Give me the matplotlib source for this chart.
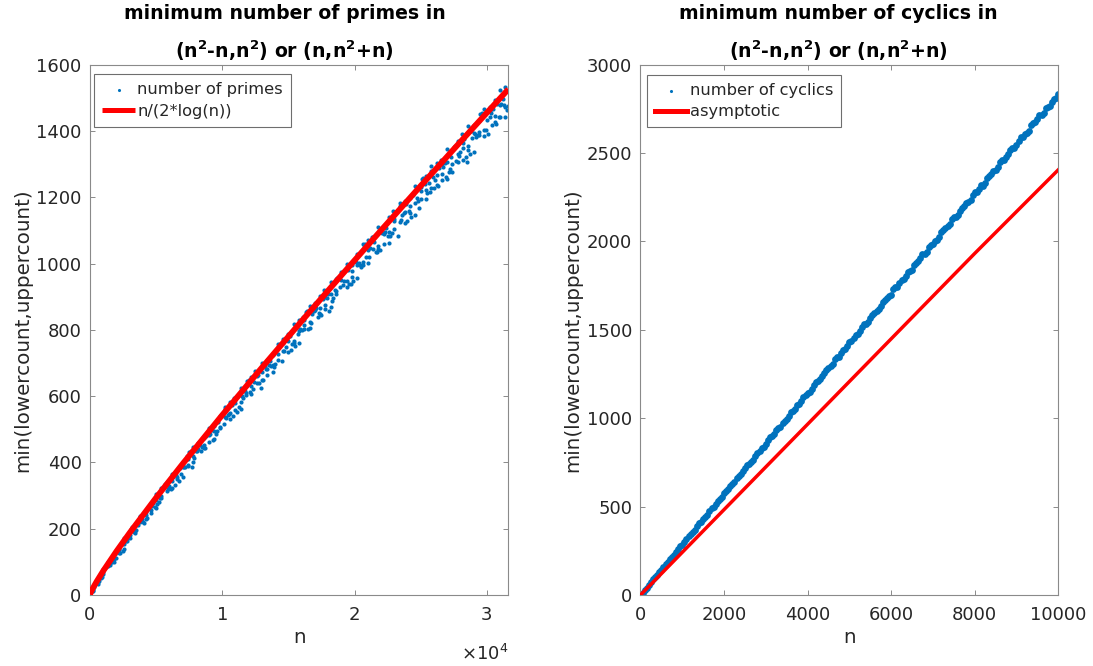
import matplotlib.pyplot as plt

plt.rcParams["font.family"] = "DejaVu Sans"
plt.rcParams["mathtext.fontset"] = "dejavusans"

BLUE = "#0072BD"
RED = "#FF0000"
AXIS_GRAY = "#8a8a8a"
TEXT_GRAY = "#262626"

# ---- left panel: primes in (n^2-n, n^2) or (n, n^2+n) ----
n_left_a = [200, 600, 1000, 1400, 1800, 2200, 2600, 3000, 3400, 3800,
            4200, 4600, 5000, 5400, 5800, 6200, 6600, 7000, 7400, 7800,
            8200, 8600, 9000, 9400, 9800, 10200, 10600, 11000, 11400, 11800,
            12200, 12600, 13000, 13400, 13800, 14200, 14600, 15000, 15400, 15800,
            16200, 16600, 17000, 17400, 17800, 18200, 18600, 19000, 19400, 19800,
            20200, 20600, 21000, 21400, 21800, 22200, 22600, 23000, 23400, 23800,
            24200, 24600, 25000, 25400, 25800, 26200, 26600, 27000, 27400, 27800,
            28200, 28600, 29000, 29400, 29800, 30200, 30600, 31000, 31400]
primes_a = [21, 46, 78, 98, 124, 139, 172, 190, 209, 238,
            250, 278, 305, 322, 332, 366, 377, 402, 409, 447,
            459, 475, 505, 511, 540, 568, 583, 587, 625, 632,
            657, 660, 701, 710, 724, 756, 759, 788, 817, 830,
            831, 872, 876, 901, 900, 944, 952, 964, 998, 997,
            1028, 1058, 1070, 1068, 1111, 1113, 1139, 1135, 1182, 1188,
            1199, 1234, 1231, 1263, 1293, 1304, 1300, 1345, 1344, 1371,
            1365, 1414, 1419, 1429, 1465, 1460, 1493, 1524, 1534]
primes_b = [16, 40, 69, 88, 108, 136, 153, 181, 193, 219,
            241, 256, 286, 299, 314, 344, 357, 385, 393, 420,
            440, 453, 484, 494, 507, 538, 549, 579, 583, 610,
            630, 641, 674, 682, 693, 726, 735, 766, 767, 796,
            815, 825, 859, 866, 875, 909, 917, 949, 948, 977,
            997, 1005, 1040, 1045, 1053, 1089, 1095, 1128, 1125, 1155,
            1175, 1182, 1219, 1222, 1229, 1266, 1271, 1305, 1300, 1331,
            1350, 1356, 1394, 1397, 1402, 1441, 1445, 1479, 1473]
primes_c = [13, 34, 62, 100, 101, 127, 140, 172, 186, 234,
            229, 248, 261, 292, 341, 323, 349, 356, 389, 402,
            460, 443, 461, 471, 504, 561, 531, 558, 561, 602,
            607, 674, 648, 665, 673, 708, 771, 733, 760, 760,
            804, 807, 880, 848, 864, 870, 908, 975, 929, 958,
            955, 995, 1003, 1081, 1043, 1059, 1063, 1103, 1175, 1122,
            1152, 1147, 1196, 1195, 1279, 1236, 1251, 1254, 1277, 1307,
            1313, 1343, 1336, 1387, 1386, 1473, 1426, 1441, 1442]
n_left_d = [400, 800, 1200, 1600, 2000, 2400, 2800, 3200, 3600, 4000,
            4400, 4800, 5200, 5600, 6000, 6400, 6800, 7200, 7600, 8000,
            8400, 8800, 9200, 9600, 10000, 10400, 10800, 11200, 11600, 12000,
            12400, 12800, 13200, 13600, 14000, 14400, 14800, 15200, 15600, 16000,
            16400, 16800, 17200, 17600, 18000, 18400, 18800, 19200, 19600, 20000,
            20400, 20800, 21200, 21600, 22000, 22400, 22800, 23200, 23600, 24000,
            24400, 24800, 25200, 25600, 26000, 26400, 26800, 27200, 27600, 28000,
            28400, 28800, 29200, 29600, 30000, 30400, 30800, 31200, 31600]
primes_d = [32, 50, 86, 100, 112, 154, 163, 204, 212, 219,
            259, 278, 281, 327, 330, 332, 384, 385, 434, 433,
            435, 480, 497, 494, 546, 543, 539, 599, 595, 649,
            644, 640, 690, 706, 698, 756, 748, 740, 806, 798,
            857, 847, 840, 894, 909, 897, 960, 948, 937, 1008,
            996, 1059, 1046, 1036, 1094, 1108, 1092, 1159, 1145, 1129,
            1206, 1190, 1257, 1242, 1228, 1289, 1303, 1284, 1355, 1338,
            1320, 1400, 1382, 1453, 1434, 1419, 1482, 1496, 1474]
n_left_e = [100, 500, 900, 1300, 1700, 2100, 2500, 2900, 3300, 3700,
            4100, 4500, 4900, 5300, 5700, 6100, 6500, 6900, 7300, 7700,
            8100, 8500, 8900, 9300, 9700, 10100, 10500, 10900, 11300, 11700,
            12100, 12500, 12900, 13300, 13700, 14100, 14500, 14900, 15300, 15700,
            16100, 16500, 16900, 17300, 17700, 18100, 18500, 18900, 19300, 19700,
            20100, 20500, 20900, 21300, 21700, 22100, 22500, 22900, 23300, 23700,
            24100, 24500, 24900, 25300, 25700, 26100, 26500, 26900, 27300, 27700,
            28100, 28500, 28900, 29300, 29700, 30100, 30500, 30900, 31300]
primes_e = [8, 42, 53, 87, 101, 143, 132, 172, 189, 227,
            218, 263, 265, 293, 335, 320, 362, 366, 420, 385,
            435, 448, 492, 468, 523, 516, 546, 593, 566, 615,
            613, 675, 624, 682, 692, 741, 707, 768, 756, 787,
            840, 803, 856, 851, 920, 856, 920, 929, 981, 939,
            1006, 989, 1021, 1079, 1034, 1091, 1083, 1158, 1084, 1152,
            1160, 1216, 1167, 1239, 1217, 1251, 1312, 1261, 1322, 1310,
            1390, 1307, 1380, 1387, 1446, 1391, 1467, 1442, 1477]
n_left_g = [300, 700, 1100, 1500, 1900, 2300, 2700, 3100, 3500, 3900,
            4300, 4700, 5100, 5500, 5900, 6300, 6700, 7100, 7500, 7900,
            8300, 8700, 9100, 9500, 9900, 10300, 10700, 11100, 11500, 11900,
            12300, 12700, 13100, 13500, 13900, 14300, 14700, 15100, 15500, 15900,
            16300, 16700, 17100, 17500, 17900, 18300, 18700, 19100, 19500, 19900,
            20300, 20700, 21100, 21500, 21900, 22300, 22700, 23100, 23500, 23900,
            24300, 24700, 25100, 25500, 25900, 26300, 26700, 27100, 27500, 27900,
            28300, 28700, 29100, 29500, 29900, 30300, 30700, 31100, 31500]
primes_g = [23, 43, 80, 92, 124, 126, 162, 199, 196, 230,
            231, 269, 274, 323, 320, 357, 344, 387, 430, 414,
            452, 443, 487, 485, 543, 533, 573, 551, 599, 645,
            621, 663, 648, 695, 689, 753, 737, 780, 751, 803,
            853, 822, 867, 846, 897, 888, 957, 936, 982, 947,
            1003, 1056, 1019, 1066, 1041, 1095, 1083, 1156, 1132, 1180,
            1139, 1198, 1255, 1212, 1262, 1233, 1290, 1275, 1352, 1324,
            1375, 1329, 1391, 1450, 1403, 1455, 1422, 1482, 1464]

# n/(2*log(n))
n_curve_left = [2, 50, 100, 200, 500, 1000, 2000, 3000, 5000, 7000, 10000,
                13000, 16000, 19000, 22000, 25000, 28000, 31623]
curve_left = [1.4, 6.4, 10.9, 18.9, 40.2, 72.4, 131.6, 187.4, 293.5, 395.3, 542.9,
              686.2, 826.4, 964.3, 1100.2, 1234.4, 1367.2, 1526.0]

# ---- right panel: cyclic numbers ----
n_right = [100, 200, 300, 400, 500, 600, 700, 800, 900, 1000,
           1100, 1200, 1300, 1400, 1500, 1600, 1700, 1800, 1900, 2000,
           2100, 2200, 2300, 2400, 2500, 2600, 2700, 2800, 2900, 3000,
           3100, 3200, 3300, 3400, 3500, 3600, 3700, 3800, 3900, 4000,
           4100, 4200, 4300, 4400, 4500, 4600, 4700, 4800, 4900, 5000,
           5100, 5200, 5300, 5400, 5500, 5600, 5700, 5800, 5900, 6000,
           6100, 6200, 6300, 6400, 6500, 6600, 6700, 6800, 6900, 7000,
           7100, 7200, 7300, 7400, 7500, 7600, 7700, 7800, 7900, 8000,
           8100, 8200, 8300, 8400, 8500, 8600, 8700, 8800, 8900, 9000,
           9100, 9200, 9300, 9400, 9500, 9600, 9700, 9800, 9900, 10000]
cyclics = [29, 56, 88, 114, 141, 174, 201, 228, 261, 284,
           316, 345, 370, 405, 429, 454, 490, 515, 542, 576,
           597, 630, 660, 683, 720, 742, 766, 804, 829, 855,
           891, 909, 944, 973, 995, 1035, 1055, 1078, 1118, 1142,
           1167, 1204, 1221, 1256, 1286, 1307, 1348, 1367, 1389, 1430,
           1453, 1478, 1516, 1532, 1568, 1598, 1618, 1660, 1678, 1699,
           1741, 1764, 1788, 1828, 1841, 1878, 1908, 1927, 1970, 1988,
           2008, 2052, 2074, 2098, 2138, 2150, 2188, 2218, 2236, 2280,
           2297, 2316, 2361, 2383, 2406, 2447, 2458, 2496, 2526, 2544,
           2589, 2605, 2624, 2669, 2690, 2713, 2755, 2765, 2804, 2834]
n_right_mid = [50, 150, 250, 350, 450, 550, 650, 750, 850, 950,
               1050, 1150, 1250, 1350, 1450, 1550, 1650, 1750, 1850, 1950,
               2050, 2150, 2250, 2350, 2450, 2550, 2650, 2750, 2850, 2950,
               3050, 3150, 3250, 3350, 3450, 3550, 3650, 3750, 3850, 3950,
               4050, 4150, 4250, 4350, 4450, 4550, 4650, 4750, 4850, 4950,
               5050, 5150, 5250, 5350, 5450, 5550, 5650, 5750, 5850, 5950,
               6050, 6150, 6250, 6350, 6450, 6550, 6650, 6750, 6850, 6950,
               7050, 7150, 7250, 7350, 7450, 7550, 7650, 7750, 7850, 7950,
               8050, 8150, 8250, 8350, 8450, 8550, 8650, 8750, 8850, 8950,
               9050, 9150, 9250, 9350, 9450, 9550, 9650, 9750, 9850, 9950]
cyclics_mid = [14, 42, 73, 100, 131, 156, 187, 215, 242, 275,
               300, 333, 355, 388, 415, 441, 476, 500, 534, 554,
               588, 615, 641, 676, 699, 734, 753, 788, 814, 840,
               876, 898, 934, 952, 987, 1013, 1039, 1076, 1097, 1134,
               1150, 1186, 1212, 1237, 1275, 1296, 1333, 1348, 1385, 1410,
               1435, 1473, 1494, 1531, 1546, 1583, 1608, 1633, 1671, 1691,
               1730, 1743, 1781, 1806, 1830, 1869, 1888, 1927, 1940, 1978,
               2003, 2027, 2067, 2085, 2125, 2136, 2175, 2199, 2223, 2264,
               2282, 2322, 2332, 2371, 2396, 2419, 2460, 2478, 2518, 2528,
               2567, 2592, 2615, 2656, 2674, 2714, 2724, 2763, 2787, 2810]

n_curve_right = [0, 2000, 4000, 6000, 8000, 10000]
curve_right = [0, 483, 966, 1449, 1932, 2405]

title_line2 = r"(n$^{\mathbf{2}}$-n,n$^{\mathbf{2}}$) or (n,n$^{\mathbf{2}}$+n)"

TICK_FS = 13
LABEL_FS = 14.3
TITLE_FS = 13.6
LEGEND_FS = 11.7


def style_axes(ax):
    for sp in ax.spines.values():
        sp.set_color(AXIS_GRAY)
        sp.set_linewidth(0.8)
    ax.tick_params(direction="in", length=3.6, width=0.7, color=AXIS_GRAY,
                   labelcolor=TEXT_GRAY, labelsize=TICK_FS, top=True, right=True)
    ax.tick_params(axis="x", pad=8)
    ax.tick_params(axis="y", pad=6)


def add_legend(ax, anchor, handle_line_width, dot_size):
    leg = ax.legend(loc="upper left", bbox_to_anchor=anchor, borderaxespad=0,
                    fontsize=LEGEND_FS, frameon=True, fancybox=False, framealpha=1,
                    edgecolor="#6e6e6e", handlelength=2.0, handletextpad=0.15,
                    borderpad=0.5, labelspacing=0.4, scatterpoints=1)
    leg.get_frame().set_linewidth(0.8)
    leg.legend_handles[0].set_sizes([dot_size])
    leg.legend_handles[1].set_linewidth(handle_line_width)
    for t in leg.get_texts():
        t.set_color(TEXT_GRAY)
    return leg


def set_titles(ax, line1, x):
    ax.set_title(line1 + "\n" + title_line2, fontsize=TITLE_FS,
                 fontweight="bold", x=x, pad=5, linespacing=1.8)


fig = plt.figure(figsize=(10.93, 6.66), dpi=100)
ax1 = fig.add_axes([0.0823, 0.1066, 0.3828, 0.7963])
ax2 = fig.add_axes([0.586, 0.1066, 0.3822, 0.7963])

# left
ax1.scatter(n_left_a + n_left_a + n_left_a + n_left_d + n_left_e + n_left_g,
            primes_a + primes_b + primes_c + primes_d + primes_e + primes_g,
            s=9, color=BLUE, linewidths=0, zorder=2, label="number of primes")
ax1.plot(n_curve_left, curve_left, color=RED, lw=4.2, zorder=3,
         solid_capstyle="butt", label="n/(2*log(n))")
ax1.set_xlim(0, 31623)
ax1.set_ylim(0, 1600)
ax1.set_xticks([0, 10000, 20000, 30000])
ax1.set_xticklabels(["0", "1", "2", "3"])
ax1.set_yticks(range(0, 1601, 200))
style_axes(ax1)
ax1.text(1.0, -0.093, "\u00d710$^{4}$", transform=ax1.transAxes, ha="right",
         va="top", fontsize=TICK_FS, color=TEXT_GRAY)
ax1.set_xlabel("n", fontsize=LABEL_FS, color=TEXT_GRAY, labelpad=3)
ax1.set_ylabel("min(lowercount,uppercount)", fontsize=LABEL_FS, color=TEXT_GRAY,
               labelpad=3)
set_titles(ax1, "minimum number of primes in", 0.465)
add_legend(ax1, (0.0103, 0.9825), 3.6, 5)

# right
ax2.scatter(n_right + n_right_mid, cyclics + cyclics_mid, s=24, color=BLUE,
            linewidths=0, zorder=2, label="number of cyclics")
ax2.plot(n_curve_right, curve_right, color=RED, lw=2.5, zorder=3,
         label="asymptotic")
ax2.set_xlim(0, 10000)
ax2.set_ylim(0, 3000)
ax2.set_xticks(range(0, 10001, 2000))
ax2.set_yticks(range(0, 3001, 500))
style_axes(ax2)
ax2.set_xlabel("n", fontsize=LABEL_FS, color=TEXT_GRAY, labelpad=3)
ax2.set_ylabel("min(lowercount,uppercount)", fontsize=LABEL_FS, color=TEXT_GRAY,
               labelpad=3)
set_titles(ax2, "minimum number of cyclics in", 0.473)
add_legend(ax2, (0.0148, 0.981), 3.6, 5)

fig.savefig("out.png", dpi=100)
